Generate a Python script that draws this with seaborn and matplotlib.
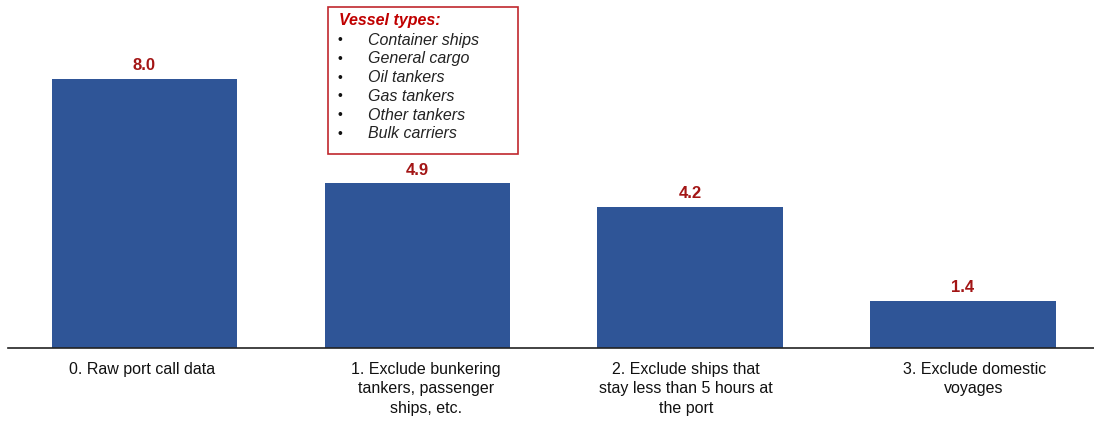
import matplotlib
matplotlib.use("Agg")
import matplotlib.pyplot as plt
from matplotlib.patches import Rectangle
import seaborn as sns
import pandas as pd

# Filtering steps and remaining port-call volume after each step
steps = [
    "0. Raw port call data",
    "1. Exclude bunkering\ntankers, passenger\nships, etc.",
    "2. Exclude ships that\nstay less than 5 hours at\nthe port",
    "3. Exclude domestic\nvoyages",
]
values = [8.0, 4.9, 4.2, 1.4]
value_labels = ["8.0", "4.9", "4.2", "1.4"]
# horizontal nudge of each category caption (points)
label_shift = [-2, 6, -3, 8]

vessel_heading = "Vessel types:"
vessel_types = [
    "Container ships",
    "General cargo",
    "Oil tankers",
    "Gas tankers",
    "Other tankers",
    "Bulk carriers",
]

BAR_COLOR = "#2F5597"
LABEL_RED = "#A31515"
BOX_RED = "#C0282D"

sns.set_style("white")
plt.rcParams["font.family"] = ["Liberation Sans", "DejaVu Sans"]

df = pd.DataFrame({"step": steps, "value": values})

fig = plt.figure(figsize=(10.94, 4.21), dpi=100)
ax = fig.add_axes([8 / 1094, 73 / 421, 1086 / 1094, 348 / 421])

sns.barplot(data=df, x="step", y="value", color=BAR_COLOR, width=0.68,
            saturation=1, ax=ax, edgecolor="none")

ax.set_xlim(-0.5, 3.48)
ax.set_ylim(0, 10.35)
ax.set_xlabel("")
ax.set_ylabel("")
ax.set_yticks([])
ax.set_xticklabels([])
for side in ("top", "right", "left"):
    ax.spines[side].set_visible(False)
ax.spines["bottom"].set_color("#222222")
ax.spines["bottom"].set_linewidth(1.2)
ax.tick_params(axis="x", length=0)

# Category captions under the baseline
for i, (txt, dx) in enumerate(zip(steps, label_shift)):
    ax.annotate(txt, (i, 0), xycoords=("data", "axes fraction"),
                xytext=(dx, -10), textcoords="offset points",
                ha="center", va="top", multialignment="center",
                fontsize=11.5, color="#111111", linespacing=1.38)

# Value labels above each bar
for bar, txt in zip(ax.patches, value_labels):
    ax.annotate(txt, (bar.get_x() + bar.get_width() / 2, bar.get_height()),
                xytext=(0, 4), textcoords="offset points",
                ha="center", va="bottom", fontsize=12, fontweight="bold",
                color=LABEL_RED)

# Vessel type inset box
box_x0, box_x1 = 328 / 1094, 518 / 1094
box_y0, box_y1 = 1 - 154 / 421, 1 - 7 / 421
fig.patches.append(Rectangle((box_x0, box_y0), box_x1 - box_x0, box_y1 - box_y0,
                             transform=fig.transFigure, fill=True,
                             facecolor="white", edgecolor=BOX_RED, linewidth=1.2,
                             zorder=5))
fig.text(339 / 1094, 1 - 20 / 421, vessel_heading, ha="left", va="center",
         fontsize=11.5, fontweight="bold", fontstyle="italic", color="#C00000",
         zorder=6)
for i, name in enumerate(vessel_types):
    y = 1 - (40 + i * 18.8) / 421
    fig.text(340 / 1094, y, "•", ha="center", va="center", fontsize=10,
             color="#111111", zorder=6)
    fig.text(368 / 1094, y, name, ha="left", va="center", fontsize=11.5,
             fontstyle="italic", color="#222222", zorder=6)

fig.savefig("out.png", dpi=100)
